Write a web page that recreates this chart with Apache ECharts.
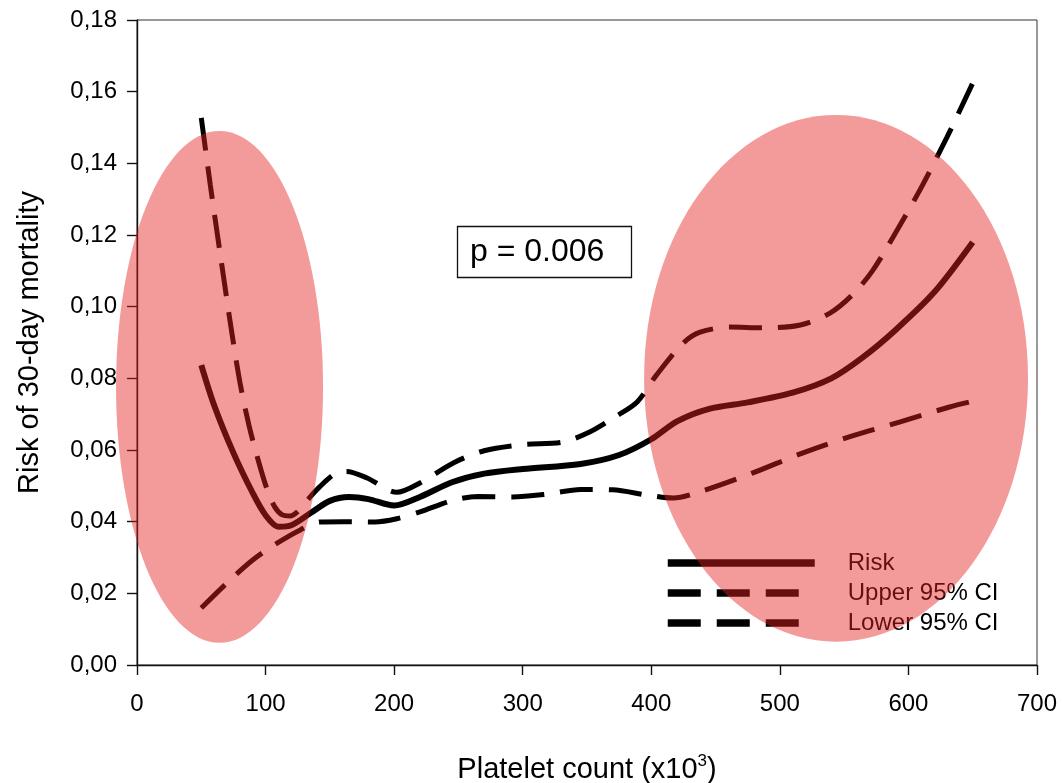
<!DOCTYPE html>
<html>
<head>
<meta charset="utf-8">
<script src="https://cdn.jsdelivr.net/npm/echarts@6/dist/echarts.min.js"></script>
<style>
html,body{margin:0;padding:0;background:#fff;}
#chart{width:1062px;height:783px;}
</style>
</head>
<body>
<div id="chart"></div>
<script>
// ---- data ----
var riskX = [50, 60, 75, 90, 100, 110, 120, 135, 150, 165, 180, 200, 220, 245, 270, 300, 345, 375, 400, 420, 445, 475, 510, 540, 565, 590, 620, 650];
var riskY = [0.0837, 0.0725, 0.0592, 0.0480, 0.0418, 0.0386, 0.0390, 0.0424, 0.0458, 0.0469, 0.0463, 0.0445, 0.0469, 0.0510, 0.0534, 0.0547, 0.0561, 0.0586, 0.0630, 0.0680, 0.0715, 0.0733, 0.0760, 0.0800, 0.0860, 0.0935, 0.1040, 0.1180];

var upperX = [50, 57, 65, 73, 80, 87, 94, 101, 107, 113, 119, 125, 132, 142, 155, 163, 179, 202, 220, 246, 270, 300, 331, 352, 373, 389, 404, 425, 438, 461, 487, 516, 539, 557, 572, 588, 609, 630, 650];
var upperY = [0.1527, 0.1340, 0.1140, 0.0945, 0.0790, 0.0670, 0.0575, 0.0492, 0.0442, 0.0419, 0.0416, 0.0428, 0.0458, 0.0497, 0.0536, 0.0540, 0.0522, 0.0482, 0.0508, 0.0564, 0.0598, 0.0615, 0.0622, 0.0650, 0.0695, 0.0734, 0.0809, 0.0899, 0.0929, 0.0943, 0.0941, 0.0949, 0.0982, 0.1035, 0.1100, 0.1194, 0.1326, 0.1473, 0.1624];

var lowerX = [50, 70, 90, 109, 127, 142, 160, 185, 202, 220, 246, 265, 292, 319, 345, 370, 397, 417, 440, 479, 518, 557, 593, 632, 650];
var lowerY = [0.0159, 0.0229, 0.0293, 0.0340, 0.0377, 0.0399, 0.0400, 0.0399, 0.0408, 0.0427, 0.0460, 0.0470, 0.0469, 0.0477, 0.0490, 0.0489, 0.0474, 0.0466, 0.0486, 0.0536, 0.0592, 0.0640, 0.0678, 0.0720, 0.0736];

// highlighted regions: [centerX, centerY, radiusX, radiusY] in data units
var highlightRegions = [
  [64.2, 0.0776, 80.5, 0.0714],
  [543.7, 0.0800, 149.3, 0.0735]
];

var seriesNames = ['Risk', 'Upper 95% CI', 'Lower 95% CI'];
var xTicks = [0, 700, 100];
var yTicks = [0, 0.18, 0.02];
var pText = 'p = 0.006';

function pairs(xs, ys) { return xs.map(function (x, i) { return [x, ys[i]]; }); }

var FONT = 'Liberation Sans, Arial, Helvetica, sans-serif';
var chart = echarts.init(document.getElementById('chart'), null, {renderer: 'canvas'});

var option = {
  animation: false,
  backgroundColor: '#fff',
  textStyle: {fontFamily: FONT, color: '#000'},
  grid: {left: 137, right: 25, top: 20, bottom: 118, show: true, borderColor: '#333', borderWidth: 1,
    backgroundColor: 'transparent', containLabel: false, outerBoundsMode: 'none'},
  title: {
    text: pText, left: 457, top: 226,
    padding: [10, 27, 10, 13],
    borderColor: '#111', borderWidth: 1.3,
    textStyle: {fontFamily: FONT, fontSize: 32, fontWeight: 'normal', color: '#000'}
  },
  legend: {
    orient: 'vertical', left: 664, top: 551, padding: 0,
    itemWidth: 147, itemHeight: 12, itemGap: 6,
    data: seriesNames,
    itemStyle: {opacity: 0},
    lineStyle: {width: 7.5},
    textStyle: {fontFamily: FONT, fontSize: 24, color: '#000', padding: [0, 0, 0, 28]}
  },
  xAxis: {
    type: 'value', min: xTicks[0], max: xTicks[1], interval: xTicks[2],
    name: 'Platelet count (x10{sup|3})', nameLocation: 'middle', nameGap: 88,
    nameTextStyle: {fontFamily: FONT, fontSize: 29, color: '#000',
      rich: {sup: {fontFamily: FONT, fontSize: 17, verticalAlign: 'top', padding: [0, 0, 16, 0]}}},
    axisLine: {lineStyle: {color: '#111', width: 1.4}},
    axisTick: {inside: false, length: 10, lineStyle: {color: '#111', width: 1.4}},
    axisLabel: {fontFamily: FONT, fontSize: 24, color: '#000', margin: 27},
    splitLine: {show: false}
  },
  yAxis: {
    type: 'value', min: yTicks[0], max: yTicks[1], interval: yTicks[2],
    name: 'Risk of 30-day mortality', nameLocation: 'middle', nameGap: 93,
    nameTextStyle: {fontFamily: FONT, fontSize: 29, color: '#000'},
    axisLine: {lineStyle: {color: '#111', width: 1.4}},
    axisTick: {inside: false, length: 10, lineStyle: {color: '#111', width: 1.4}},
    axisLabel: {fontFamily: FONT, fontSize: 24, color: '#000', margin: 20,
      formatter: function (v) { return v.toFixed(2).replace('.', ','); }},
    splitLine: {show: false}
  },
  series: [
    {name: seriesNames[0], type: 'line', data: pairs(riskX, riskY), smooth: 0.3, symbol: 'none', showSymbol: false,
      lineStyle: {color: '#000', width: 6, cap: 'butt'}, itemStyle: {color: '#000'}, z: 3},
    {name: seriesNames[1], type: 'line', data: pairs(upperX, upperY), smooth: 0.3, symbol: 'none', showSymbol: false,
      lineStyle: {color: '#000', width: 5, type: [33, 16], cap: 'butt'}, itemStyle: {color: '#000'}, z: 3},
    {name: seriesNames[2], type: 'line', data: pairs(lowerX, lowerY), smooth: 0.3, symbol: 'none', showSymbol: false,
      lineStyle: {color: '#000', width: 5, type: [33, 16], cap: 'butt'}, itemStyle: {color: '#000'}, z: 3},
    {
      name: 'regions', type: 'custom', z: 20, silent: true,
      data: highlightRegions,
      renderItem: function (params, api) {
        var c = api.coord([api.value(0), api.value(1)]);
        var s = api.size([api.value(2), api.value(3)]);
        return {
          type: 'ellipse',
          shape: {cx: c[0], cy: c[1], rx: s[0], ry: s[1]},
          style: {fill: 'rgba(228,30,30,0.45)', stroke: null}
        };
      }
    }
  ]
};
chart.setOption(option);
</script>
</body>
</html>
